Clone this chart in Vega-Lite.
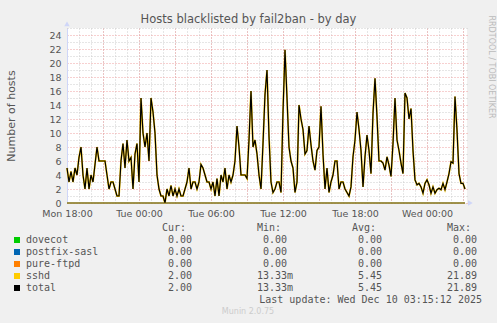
{
"$schema": "https://vega.github.io/schema/vega-lite/v6.json",
"background": "#f0f0f0",
"padding": {"left": 5, "top": 13, "right": 4, "bottom": 7},
"config": {"view": {"stroke": null}, "font": "DejaVu Sans"},
"spacing": 25,
"bounds": "flush",
"datasets": {
"series": [
{"t":"2025-12-08T18:00","v":5},{"t":"2025-12-08T18:10","v":3},{"t":"2025-12-08T18:20","v":4.5},{"t":"2025-12-08T18:30","v":3},{"t":"2025-12-08T18:40","v":5},{"t":"2025-12-08T18:50","v":4},
{"t":"2025-12-08T19:00","v":6.5},{"t":"2025-12-08T19:10","v":8},{"t":"2025-12-08T19:20","v":4},{"t":"2025-12-08T19:30","v":2},{"t":"2025-12-08T19:40","v":5},{"t":"2025-12-08T19:50","v":2},
{"t":"2025-12-08T20:00","v":4},{"t":"2025-12-08T20:10","v":3},{"t":"2025-12-08T20:20","v":5.5},{"t":"2025-12-08T20:30","v":8},{"t":"2025-12-08T20:40","v":6},{"t":"2025-12-08T20:50","v":6},
{"t":"2025-12-08T21:00","v":6},{"t":"2025-12-08T21:10","v":6},{"t":"2025-12-08T21:20","v":4},{"t":"2025-12-08T21:30","v":2},{"t":"2025-12-08T21:40","v":3},{"t":"2025-12-08T21:50","v":3},
{"t":"2025-12-08T22:00","v":2},{"t":"2025-12-08T22:10","v":1},{"t":"2025-12-08T22:20","v":1},{"t":"2025-12-08T22:30","v":6},{"t":"2025-12-08T22:40","v":8.5},{"t":"2025-12-08T22:50","v":5},
{"t":"2025-12-08T23:00","v":9},{"t":"2025-12-08T23:10","v":6},{"t":"2025-12-08T23:20","v":6.5},{"t":"2025-12-08T23:30","v":2},{"t":"2025-12-08T23:40","v":7},{"t":"2025-12-08T23:50","v":8.5},
{"t":"2025-12-09T00:00","v":3},{"t":"2025-12-09T00:10","v":15},{"t":"2025-12-09T00:20","v":10},{"t":"2025-12-09T00:30","v":8},{"t":"2025-12-09T00:40","v":10},{"t":"2025-12-09T00:50","v":6},
{"t":"2025-12-09T01:00","v":15},{"t":"2025-12-09T01:10","v":13},{"t":"2025-12-09T01:20","v":10},{"t":"2025-12-09T01:30","v":4},{"t":"2025-12-09T01:40","v":2},{"t":"2025-12-09T01:50","v":1},
{"t":"2025-12-09T02:00","v":1},{"t":"2025-12-09T02:10","v":0.01333},{"t":"2025-12-09T02:20","v":2},{"t":"2025-12-09T02:30","v":1},{"t":"2025-12-09T02:40","v":2.5},{"t":"2025-12-09T02:50","v":1},
{"t":"2025-12-09T03:00","v":2},{"t":"2025-12-09T03:10","v":1},{"t":"2025-12-09T03:20","v":2},{"t":"2025-12-09T03:30","v":1},{"t":"2025-12-09T03:40","v":1},{"t":"2025-12-09T03:50","v":2},
{"t":"2025-12-09T04:00","v":3},{"t":"2025-12-09T04:10","v":5},{"t":"2025-12-09T04:20","v":2},{"t":"2025-12-09T04:30","v":3},{"t":"2025-12-09T04:40","v":3},{"t":"2025-12-09T04:50","v":2},
{"t":"2025-12-09T05:00","v":3},{"t":"2025-12-09T05:10","v":5.5},{"t":"2025-12-09T05:20","v":5},{"t":"2025-12-09T05:30","v":4},{"t":"2025-12-09T05:40","v":3},{"t":"2025-12-09T05:50","v":3},
{"t":"2025-12-09T06:00","v":2},{"t":"2025-12-09T06:10","v":3},{"t":"2025-12-09T06:20","v":1},{"t":"2025-12-09T06:30","v":3.5},{"t":"2025-12-09T06:40","v":1},{"t":"2025-12-09T06:50","v":4},
{"t":"2025-12-09T07:00","v":3},{"t":"2025-12-09T07:10","v":5},{"t":"2025-12-09T07:20","v":2},{"t":"2025-12-09T07:30","v":4},{"t":"2025-12-09T07:40","v":3},{"t":"2025-12-09T07:50","v":4},
{"t":"2025-12-09T08:00","v":6},{"t":"2025-12-09T08:10","v":11},{"t":"2025-12-09T08:20","v":8},{"t":"2025-12-09T08:30","v":4},{"t":"2025-12-09T08:40","v":4},{"t":"2025-12-09T08:50","v":4},
{"t":"2025-12-09T09:00","v":3.5},{"t":"2025-12-09T09:10","v":9},{"t":"2025-12-09T09:20","v":16},{"t":"2025-12-09T09:30","v":8},{"t":"2025-12-09T09:40","v":9},{"t":"2025-12-09T09:50","v":7},
{"t":"2025-12-09T10:00","v":4},{"t":"2025-12-09T10:10","v":2},{"t":"2025-12-09T10:20","v":8.5},{"t":"2025-12-09T10:30","v":15.5},{"t":"2025-12-09T10:40","v":19},{"t":"2025-12-09T10:50","v":9.5},
{"t":"2025-12-09T11:00","v":3},{"t":"2025-12-09T11:10","v":1.5},{"t":"2025-12-09T11:20","v":2},{"t":"2025-12-09T11:30","v":3},{"t":"2025-12-09T11:40","v":3},{"t":"2025-12-09T11:50","v":1.5},
{"t":"2025-12-09T12:00","v":13},{"t":"2025-12-09T12:10","v":21.89},{"t":"2025-12-09T12:20","v":15},{"t":"2025-12-09T12:30","v":8},{"t":"2025-12-09T12:40","v":6},{"t":"2025-12-09T12:50","v":5},
{"t":"2025-12-09T13:00","v":1.5},{"t":"2025-12-09T13:10","v":3},{"t":"2025-12-09T13:20","v":14},{"t":"2025-12-09T13:30","v":12},{"t":"2025-12-09T13:40","v":10.5},{"t":"2025-12-09T13:50","v":7},
{"t":"2025-12-09T14:00","v":7.5},{"t":"2025-12-09T14:10","v":11},{"t":"2025-12-09T14:20","v":8.3},{"t":"2025-12-09T14:30","v":6},{"t":"2025-12-09T14:40","v":4.7},{"t":"2025-12-09T14:50","v":7.5},
{"t":"2025-12-09T15:00","v":8},{"t":"2025-12-09T15:10","v":13.8},{"t":"2025-12-09T15:20","v":7},{"t":"2025-12-09T15:30","v":2},{"t":"2025-12-09T15:40","v":5},{"t":"2025-12-09T15:50","v":1.5},
{"t":"2025-12-09T16:00","v":3},{"t":"2025-12-09T16:10","v":4},{"t":"2025-12-09T16:20","v":6},{"t":"2025-12-09T16:30","v":6},{"t":"2025-12-09T16:40","v":2},{"t":"2025-12-09T16:50","v":3},
{"t":"2025-12-09T17:00","v":3},{"t":"2025-12-09T17:10","v":2},{"t":"2025-12-09T17:20","v":1.5},{"t":"2025-12-09T17:30","v":1},{"t":"2025-12-09T17:40","v":2.3},{"t":"2025-12-09T17:50","v":6.6},
{"t":"2025-12-09T18:00","v":9},{"t":"2025-12-09T18:10","v":13},{"t":"2025-12-09T18:20","v":10.5},{"t":"2025-12-09T18:30","v":7.5},{"t":"2025-12-09T18:40","v":2.3},{"t":"2025-12-09T18:50","v":6.6},
{"t":"2025-12-09T19:00","v":9.7},{"t":"2025-12-09T19:10","v":7.5},{"t":"2025-12-09T19:20","v":4.2},{"t":"2025-12-09T19:30","v":12.8},{"t":"2025-12-09T19:40","v":17.8},{"t":"2025-12-09T19:50","v":12.3},
{"t":"2025-12-09T20:00","v":6},{"t":"2025-12-09T20:10","v":6},{"t":"2025-12-09T20:20","v":5.7},{"t":"2025-12-09T20:30","v":4.7},{"t":"2025-12-09T20:40","v":6.6},{"t":"2025-12-09T20:50","v":5.4},
{"t":"2025-12-09T21:00","v":3.8},{"t":"2025-12-09T21:10","v":8.5},{"t":"2025-12-09T21:20","v":15},{"t":"2025-12-09T21:30","v":9},{"t":"2025-12-09T21:40","v":7.5},{"t":"2025-12-09T21:50","v":5.7},
{"t":"2025-12-09T22:00","v":4.2},{"t":"2025-12-09T22:10","v":15.7},{"t":"2025-12-09T22:20","v":15},{"t":"2025-12-09T22:30","v":12},{"t":"2025-12-09T22:40","v":13.5},{"t":"2025-12-09T22:50","v":7.5},
{"t":"2025-12-09T23:00","v":3.3},{"t":"2025-12-09T23:10","v":2.6},{"t":"2025-12-09T23:20","v":2.8},{"t":"2025-12-09T23:30","v":2.3},{"t":"2025-12-09T23:40","v":1.4},{"t":"2025-12-09T23:50","v":2.8},
{"t":"2025-12-10T00:00","v":3.3},{"t":"2025-12-10T00:10","v":2.6},{"t":"2025-12-10T00:20","v":1.4},{"t":"2025-12-10T00:30","v":2.3},{"t":"2025-12-10T00:40","v":1.4},{"t":"2025-12-10T00:50","v":1.9},
{"t":"2025-12-10T01:00","v":2.1},{"t":"2025-12-10T01:10","v":1.9},{"t":"2025-12-10T01:20","v":2.8},{"t":"2025-12-10T01:30","v":1.9},{"t":"2025-12-10T01:40","v":3},{"t":"2025-12-10T01:50","v":4.2},
{"t":"2025-12-10T02:00","v":5.9},{"t":"2025-12-10T02:10","v":5.7},{"t":"2025-12-10T02:20","v":15.2},{"t":"2025-12-10T02:30","v":10.4},{"t":"2025-12-10T02:40","v":4.2},{"t":"2025-12-10T02:50","v":2.8},
{"t":"2025-12-10T03:00","v":2.8},{"t":"2025-12-10T03:10","v":2}
],
"zero": [
{"t":"2025-12-08T18:00","s":"dovecot","v":0},{"t":"2025-12-10T03:10","s":"dovecot","v":0},
{"t":"2025-12-08T18:00","s":"postfix-sasl","v":0},{"t":"2025-12-10T03:10","s":"postfix-sasl","v":0},
{"t":"2025-12-08T18:00","s":"pure-ftpd","v":0},{"t":"2025-12-10T03:10","s":"pure-ftpd","v":0}
],
"legend": [
{"s":"dovecot","cur":"0.00","min":"0.00","avg":"0.00","max":"0.00"},
{"s":"postfix-sasl","cur":"0.00","min":"0.00","avg":"0.00","max":"0.00"},
{"s":"pure-ftpd","cur":"0.00","min":"0.00","avg":"0.00","max":"0.00"},
{"s":"sshd","cur":"2.00","min":"13.33m","avg":"5.45","max":"21.89"},
{"s":"total","cur":"2.00","min":"13.33m","avg":"5.45","max":"21.89"}
],
"header": [
{"col":"cur","text":"Cur:"},{"col":"min","text":"Min:"},{"col":"avg","text":"Avg:"},{"col":"max","text":"Max:"}
]
},
"vconcat": [
{
"width": 400,
"height": 175,
"view": {"fill": "#ffffff", "stroke": null},
"resolve": {"axis": {"x": "independent", "y": "independent"}},
"layer": [
{
"data": {"name": "zero"},
"mark": {"type": "line", "strokeWidth": 1, "clip": false},
"encoding": {
"x": {"field": "t", "type": "temporal",
 "scale": {"domain": [{"year": 2025, "month": 12, "date": 8, "hours": 18}, {"year": 2025, "month": 12, "date": 10, "hours": 3, "minutes": 20}]},
 "axis": {"orient": "top", "grid": true, "gridColor": "#cccccc", "gridDash": [1, 2], "tickCount": {"interval": "hours", "step": 1}, "labels": false, "ticks": false, "domain": false,
  "title": "Hosts blacklisted by fail2ban - by day", "titleX": 181, "titleY": -9, "titleAlign": "center", "titleBaseline": "middle", "titleAngle": 0, "titleFont": "DejaVu Sans", "titleFontSize": 11.5, "titleFontWeight": "normal", "titleColor": "#555555"}},
"y": {"field": "v", "type": "quantitative", "scale": {"domain": [0, 25], "nice": false},
 "axis": {"orient": "right", "grid": true, "gridColor": "#cccccc", "gridDash": [1, 2], "values": [1,3,5,7,9,11,13,15,17,19,21,23,25], "labels": false, "ticks": false, "domain": false,
  "title": "RRDTOOL / TOBI OETIKER", "titleX": 23, "titleY": -13, "titleAngle": 90, "titleAlign": "left", "titleBaseline": "middle", "titleFontSize": 8, "titleFontWeight": "normal", "titleColor": "#bbbbbb", "titleFont": "DejaVu Sans"}},
"color": {"field": "s", "type": "nominal", "scale": {"domain": ["dovecot", "postfix-sasl", "pure-ftpd", "sshd", "total"], "range": ["#00cc00", "#0066b3", "#ff8000", "#ffcc00", "#000000"]}, "legend": null}
}
},
{
"data": {"name": "series"},
"mark": {"type": "line", "color": "#ffcc00", "strokeWidth": 1.8},
"encoding": {
"x": {"field": "t", "type": "temporal",
 "axis": {"orient": "bottom", "grid": true, "gridColor": "#eea0a0", "gridDash": [1, 2], "tickCount": {"interval": "hours", "step": 3},
  "labelExpr": "hours(datum.value) % 6 == 0 ? timeFormat(datum.value, '%a %H:%M') : ''",
  "ticks": false, "domain": false, "labelFont": "DejaVu Sans", "labelFontSize": 9.5, "labelColor": "#555555", "labelPadding": 5, "title": null, "labelFlush": false, "labelOverlap": false}},
"y": {"field": "v", "type": "quantitative",
 "axis": {"orient": "left", "grid": true, "gridColor": "#eea0a0", "gridDash": [1, 2], "values": [0,2,4,6,8,10,12,14,16,18,20,22,24], "ticks": false, "domain": true, "domainColor": "#cfd6f8",
  "labelPadding": 6, "labelFont": "DejaVu Sans", "labelFontSize": 9.5, "labelColor": "#555555",
  "title": "Number of hosts", "titleFont": "DejaVu Sans", "titleFontSize": 11, "titleFontWeight": "normal", "titleColor": "#555555", "titlePadding": 32}}
}
},
{
"data": {"name": "series"},
"mark": {"type": "line", "color": "#000000", "strokeWidth": 1.2},
"encoding": {
"x": {"field": "t", "type": "temporal", "axis": null},
"y": {"field": "v", "type": "quantitative", "axis": null}
}
},
{
"data": {"values": [{"t": "2025-12-08T18:00", "v": 25.6}]},
"mark": {"type": "point", "shape": "triangle-up", "size": 30, "filled": true, "color": "#cfd6f8", "opacity": 1},
"encoding": {
"x": {"field": "t", "type": "temporal", "axis": null},
"y": {"field": "v", "type": "quantitative", "axis": null}
}
},
{
"data": {"values": [{"t": "2025-12-10T03:37", "v": 0}]},
"mark": {"type": "point", "shape": "triangle-right", "size": 30, "filled": true, "color": "#cfd6f8", "opacity": 1},
"encoding": {
"x": {"field": "t", "type": "temporal", "axis": null},
"y": {"field": "v", "type": "quantitative", "axis": null}
}
}
]
},
{
"width": 410,
"height": 84,
"view": {"stroke": null},
"layer": [
{
"data": {"name": "legend"},
"mark": {"type": "square", "size": 36, "filled": true, "opacity": 1, "xOffset": -80},
"encoding": {
"x": {"datum": "label", "type": "nominal", "axis": null,
 "scale": {"type": "point", "domain": ["label", "cur", "min", "avg", "max"], "padding": 0.158, "align": 1}},
"y": {"field": "s", "type": "nominal", "axis": null,
 "scale": {"type": "point", "domain": ["header", "dovecot", "postfix-sasl", "pure-ftpd", "sshd", "total", "update", "munin"], "padding": 0}},
"color": {"field": "s", "type": "nominal", "scale": {"domain": ["dovecot", "postfix-sasl", "pure-ftpd", "sshd", "total"], "range": ["#00cc00", "#0066b3", "#ff8000", "#ffcc00", "#000000"]}, "legend": null}
}
},
{
"data": {"name": "legend"},
"mark": {"type": "text", "align": "left", "dx": -71, "font": "DejaVu Sans Mono", "fontSize": 10, "color": "#555555"},
"encoding": {
"x": {"datum": "label", "type": "nominal"},
"y": {"field": "s", "type": "nominal"},
"text": {"field": "s"}
}
},
{
"data": {"name": "legend"},
"transform": [{"fold": ["cur", "min", "avg", "max"], "as": ["col", "txt"]}, {"filter": "length(datum.txt) <= 5"}],
"mark": {"type": "text", "align": "right", "font": "DejaVu Sans Mono", "fontSize": 10, "color": "#555555"},
"encoding": {
"x": {"field": "col", "type": "nominal"},
"y": {"field": "s", "type": "nominal"},
"text": {"field": "txt"}
}
},
{
"data": {"name": "legend"},
"transform": [{"fold": ["cur", "min", "avg", "max"], "as": ["col", "txt"]}, {"filter": "length(datum.txt) > 5"}],
"mark": {"type": "text", "align": "right", "dx": 6, "font": "DejaVu Sans Mono", "fontSize": 10, "color": "#555555"},
"encoding": {
"x": {"field": "col", "type": "nominal"},
"y": {"field": "s", "type": "nominal"},
"text": {"field": "txt"}
}
},
{
"data": {"name": "header"},
"mark": {"type": "text", "align": "right", "dx": -6, "font": "DejaVu Sans Mono", "fontSize": 10, "color": "#555555"},
"encoding": {
"x": {"field": "col", "type": "nominal"},
"y": {"datum": "header", "type": "nominal"},
"text": {"field": "text"}
}
},
{
"data": {"values": [{"text": "Last update: Wed Dec 10 03:15:12 2025"}]},
"mark": {"type": "text", "align": "right", "dx": 5, "font": "DejaVu Sans Mono", "fontSize": 10, "color": "#555555"},
"encoding": {
"x": {"datum": "max", "type": "nominal"},
"y": {"datum": "update", "type": "nominal"},
"text": {"field": "text"}
}
},
{
"data": {"values": [{"text": "Munin 2.0.75"}]},
"mark": {"type": "text", "align": "center", "dx": -39, "font": "DejaVu Sans", "fontSize": 8, "color": "#cccccc"},
"encoding": {
"x": {"datum": "min", "type": "nominal"},
"y": {"datum": "munin", "type": "nominal"},
"text": {"field": "text"}
}
}
]
}
]
}
